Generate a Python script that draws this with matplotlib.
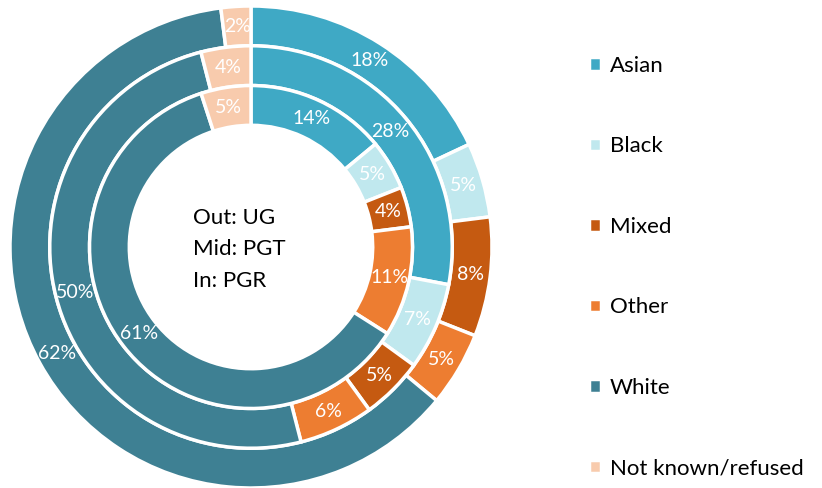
import matplotlib
matplotlib.use("Agg")
import matplotlib.pyplot as plt

plt.rcParams['font.family'] = ['Lato', 'DejaVu Sans']

categories = ["Asian", "Black", "Mixed", "Other", "White", "Not known/refused"]
colors = ["#3FA9C5", "#C0E8EE", "#C55A11", "#ED7D31", "#3E8093", "#F8CBAD"]
ug = [18, 5, 8, 5, 62, 2]    # outer
pgt = [28, 7, 5, 6, 50, 4]   # middle
pgr = [14, 5, 4, 11, 61, 5]  # inner

W, H = 822, 488
fig = plt.figure(figsize=(W / 100, H / 100), dpi=100)
cx, cy, R = 251, 488 - 247, 241
ax = fig.add_axes([(cx - R) / W, (cy - R) / H, 2 * R / W, 2 * R / H])

rings = [(ug, 1.0), (pgt, 0.835), (pgr, 0.67)]
width = 0.165
wp = dict(width=width, edgecolor='white', linewidth=2.5)
wedges_all = []
for vals, r in rings:
    wedges, texts = ax.pie(vals, radius=r, colors=colors, startangle=90,
                           counterclock=False, wedgeprops=wp,
                           labels=[f"{v}%" for v in vals],
                           labeldistance=(r - width / 2) / r,
                           textprops=dict(color='white', fontsize=14,
                                          ha='center', va='center'))
    wedges_all.append(wedges)

ax.set_xlim(-1, 1)
ax.set_ylim(-1, 1)
ax.set_aspect('equal')
ax.axis('off')

ax.text(-0.24, -0.01, "Out: UG\nMid: PGT\nIn: PGR", ha='left', va='center',
        fontsize=16, color='black', linespacing=1.72)

fig.legend(wedges_all[0], categories, loc='upper left',
           bbox_to_anchor=(589 / W, 1 - 56 / H), frameon=False,
           fontsize=16, handlelength=0.55, handleheight=0.55,
           handletextpad=0.38, labelspacing=2.72, borderpad=0,
           borderaxespad=0)

fig.savefig("out.png", dpi=100)
